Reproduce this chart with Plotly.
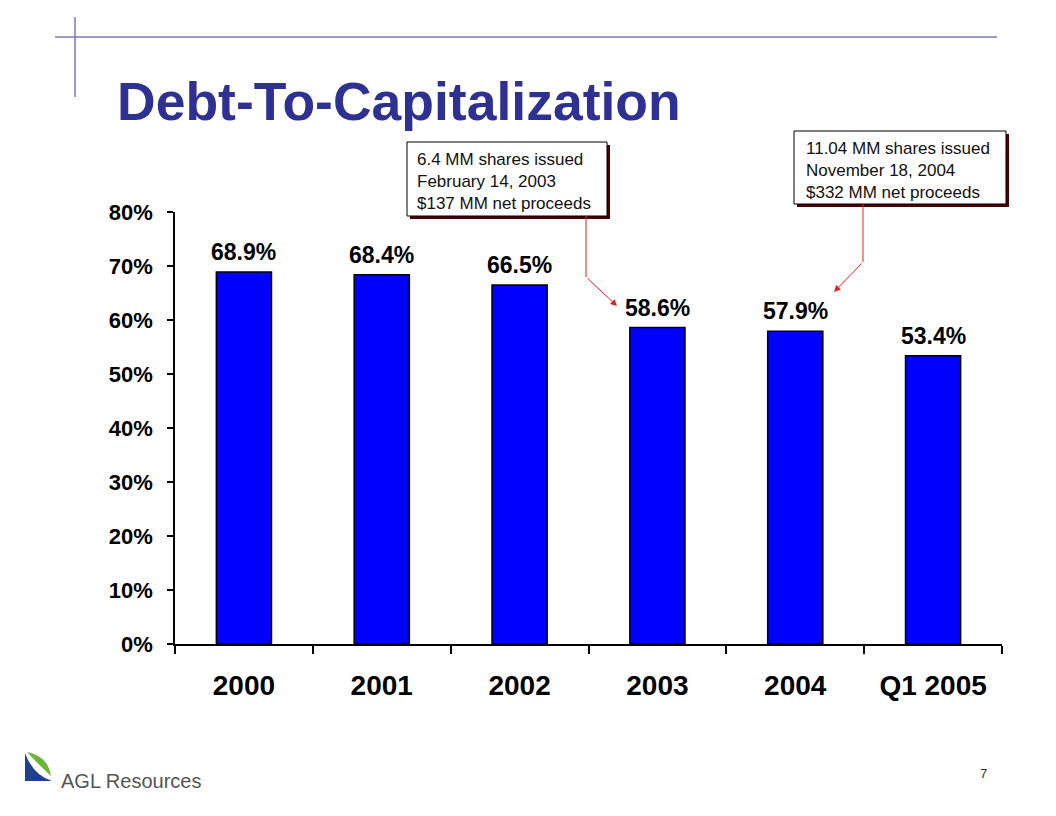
import plotly.graph_objects as go

categories = ["2000", "2001", "2002", "2003", "2004", "Q1 2005"]
debt_to_cap = [68.9, 68.4, 66.5, 58.6, 57.9, 53.4]
value_labels = ["68.9%", "68.4%", "66.5%", "58.6%", "57.9%", "53.4%"]
y_ticks = [0, 10, 20, 30, 40, 50, 60, 70, 80]
y_tick_labels = ["0%", "10%", "20%", "30%", "40%", "50%", "60%", "70%", "80%"]
note_2003 = "6.4 MM shares issued<br>February 14, 2003<br>$137 MM net proceeds"
note_2004 = "11.04 MM shares issued<br>November 18, 2004<br>$332 MM net proceeds"

OFF = 8  # page body margin
W, H = 1056 - OFF, 816 - OFF
# plot-area edges in page pixels
PL, PR, PT, PB = 175, 1002, 212, 644
L, R, T, B = PL - OFF, PR - OFF, PT - OFF, PB - OFF
FONT = "Liberation Sans, Arial, sans-serif"


def px(x):
    return (x - PL) / (PR - PL)


def py(y):
    return (PB - y) / (PB - PT)


fig = go.Figure()
fig.add_trace(go.Bar(
    x=categories, y=debt_to_cap,
    marker=dict(color="#0000FF", line=dict(color="black", width=1.5)),
    width=0.4, hoverinfo="x+y",
))

shapes = []
annotations = []

# value labels above bars (category index positions)
for i, (v, lab) in enumerate(zip(debt_to_cap, value_labels)):
    annotations.append(dict(xref="x", yref="y", x=i, y=v, text=f"<b>{lab}</b>", showarrow=False,
                            xanchor="center", yanchor="bottom", yshift=5,
                            font=dict(family=FONT, size=23, color="black")))

# decorative header lines
shapes.append(dict(type="line", xref="paper", yref="paper", x0=px(55), x1=px(997), y0=py(37), y1=py(37),
                   line=dict(color="#7a7ab0", width=1.5)))
shapes.append(dict(type="line", xref="paper", yref="paper", x0=px(75), x1=px(75), y0=py(17), y1=py(97),
                   line=dict(color="#7a7ab0", width=1.5)))

# callout boxes with shadow
for (x0, y0, x1, y1, txt, tx, ty) in [
    (407, 142, 607, 216, note_2003, 415, 148),
    (794, 131, 1006, 204, note_2004, 804, 137),
]:
    shapes.append(dict(type="rect", xref="paper", yref="paper", x0=px(x0 + 3), x1=px(x1 + 3),
                       y0=py(y0 + 3), y1=py(y1 + 3), fillcolor="#4a0000", line=dict(width=0), layer="above"))
    shapes.append(dict(type="rect", xref="paper", yref="paper", x0=px(x0), x1=px(x1),
                       y0=py(y0), y1=py(y1), fillcolor="white", line=dict(color="black", width=1), layer="above"))
    annotations.append(dict(xref="paper", yref="paper", x=px(tx), y=py(ty), text=txt, showarrow=False,
                            xanchor="left", yanchor="top", align="left",
                            font=dict(family=FONT, size=17, color="#111")))

# callout leaders
for (xa, ya, xb, yb, xc, yc) in [(586, 216, 586, 277, 617, 306), (863, 204, 863, 262, 834, 292)]:
    shapes.append(dict(type="line", xref="paper", yref="paper", x0=px(xa), x1=px(xb), y0=py(ya), y1=py(yb),
                       line=dict(color="#e02020", width=1)))
    annotations.append(dict(xref="paper", yref="paper", x=px(xc), y=py(yc), ax=xb - xc, ay=yb - yc,
                            text="", showarrow=True, arrowhead=2,
                            arrowsize=1.3, arrowwidth=1, arrowcolor="#e02020"))

# title
annotations.append(dict(xref="paper", yref="paper", x=px(115), y=py(101), text="<b>Debt-To-Capitalization</b>",
                        showarrow=False, xanchor="left", yanchor="middle",
                        font=dict(family=FONT, size=53.5, color="#2e3192")))

# logo
shapes.append(dict(type="path", xref="paper", yref="paper",
                   path=f"M {px(25)},{py(753)} L {px(25)},{py(781)} L {px(52)},{py(781)} "
                        f"Q {px(33)},{py(775)} {px(25)},{py(753)} Z",
                   fillcolor="#1f3f8f", line=dict(width=0)))
shapes.append(dict(type="path", xref="paper", yref="paper",
                   path=f"M {px(27)},{py(752)} Q {px(48)},{py(756)} {px(51)},{py(776)} "
                        f"Q {px(38)},{py(764)} {px(27)},{py(752)} Z",
                   fillcolor="#6ab636", line=dict(width=0)))
annotations.append(dict(xref="paper", yref="paper", x=px(59), y=py(781), text="AGL Resources",
                        showarrow=False, xanchor="left", yanchor="middle",
                        font=dict(family=FONT, size=20, color="#555555")))
annotations.append(dict(xref="paper", yref="paper", x=px(983), y=py(773), text="7",
                        showarrow=False, xanchor="center", yanchor="middle",
                        font=dict(family=FONT, size=13, color="#333333")))

fig.update_layout(
    width=W, height=H,
    margin=dict(l=L, r=W - R, t=T, b=H - B, autoexpand=False),
    paper_bgcolor="white", plot_bgcolor="white",
    showlegend=False, bargap=0.6,
    shapes=shapes, annotations=annotations,
    xaxis=dict(type="category", range=[-0.5, len(categories) - 0.5],
               showline=True, linecolor="black", linewidth=1.5,
               ticks="outside", tickson="boundaries", ticklen=8, tickwidth=1.5, tickcolor="black",
               tickfont=dict(family=FONT, size=28, color="black"), ticklabelstandoff=16,
               showgrid=False, zeroline=False,
               tickvals=categories, ticktext=[f"<b>{c}</b>" for c in categories]),
    yaxis=dict(range=[0, 80], tickvals=y_ticks, ticktext=[f"<b>{t}</b>" for t in y_tick_labels],
               showline=True, linecolor="black", linewidth=1.5,
               ticks="outside", ticklen=6, tickwidth=1.5, tickcolor="black",
               tickfont=dict(family=FONT, size=22, color="black"), ticklabelstandoff=10,
               showgrid=False, zeroline=False),
)

fig.write_html("out.html")
